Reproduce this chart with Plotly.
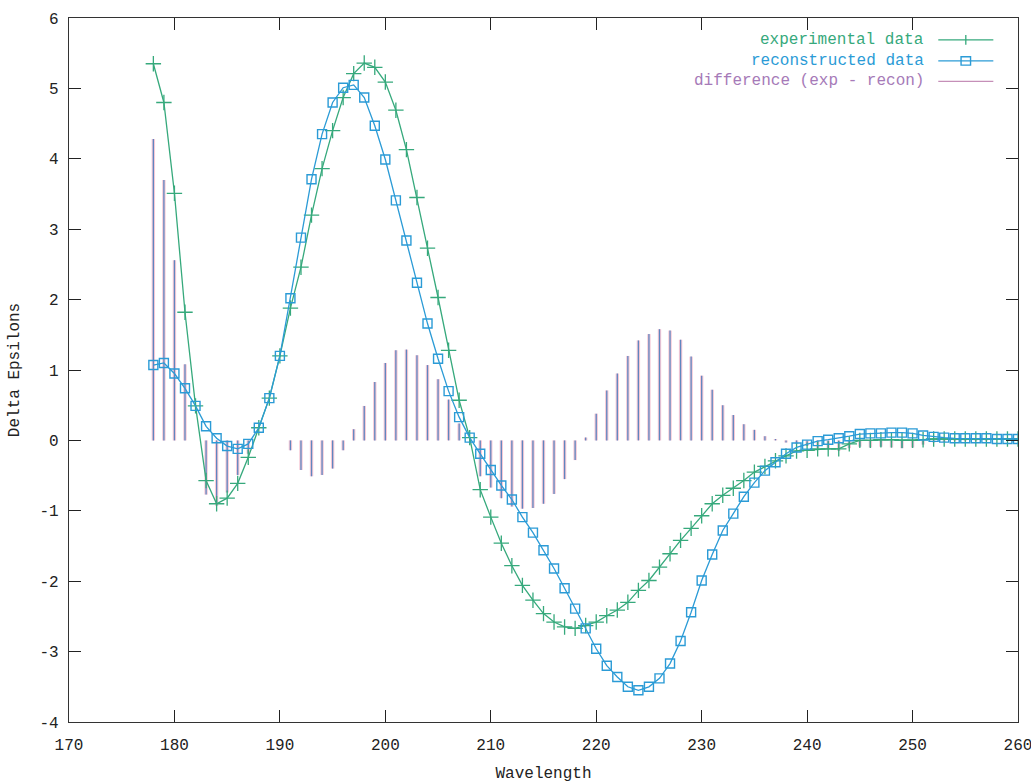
import plotly.graph_objects as go

wavelength = list(range(178, 261))

experimental = [
    5.35, 4.80, 3.51, 1.82, 0.49, -0.57, -0.90, -0.82, -0.61, -0.24,
    0.18, 0.60, 1.20, 1.88, 2.46, 3.20, 3.86, 4.40, 4.87, 5.21,
    5.36, 5.30, 5.09, 4.69, 4.13, 3.45, 2.73, 2.03, 1.28, 0.57,
    0.04, -0.70, -1.09, -1.46, -1.78, -2.06, -2.27, -2.46, -2.58, -2.65,
    -2.67, -2.63, -2.58, -2.49, -2.41, -2.30, -2.13, -1.99, -1.80, -1.61,
    -1.42, -1.25, -1.07, -0.90, -0.78, -0.68, -0.57, -0.45, -0.37, -0.29,
    -0.22, -0.15, -0.14, -0.12, -0.12, -0.12, -0.05, 0.00, 0.00, 0.01,
    0.01, 0.00, 0.00, 0.01, 0.02, 0.02, 0.02, 0.02, 0.02, 0.02,
    0.02, 0.02, 0.02,
]

reconstructed = [
    1.07, 1.10, 0.95, 0.74, 0.49, 0.20, 0.03, -0.08, -0.12, -0.05,
    0.18, 0.60, 1.20, 2.02, 2.88, 3.71, 4.35, 4.80, 5.01, 5.05,
    4.87, 4.47, 3.99, 3.41, 2.84, 2.24, 1.66, 1.16, 0.70, 0.33,
    0.04, -0.19, -0.42, -0.64, -0.84, -1.09, -1.31, -1.56, -1.82, -2.10,
    -2.39, -2.67, -2.96, -3.20, -3.36, -3.50, -3.55, -3.50, -3.38, -3.17,
    -2.85, -2.44, -1.99, -1.62, -1.28, -1.04, -0.80, -0.60, -0.43, -0.31,
    -0.19, -0.10, -0.06, -0.01, 0.01, 0.03, 0.06, 0.09, 0.10, 0.10,
    0.11, 0.11, 0.10, 0.07, 0.05, 0.04, 0.03, 0.03, 0.03, 0.03,
    0.02, 0.02, 0.02,
]

difference = [e - r for e, r in zip(experimental, reconstructed)]

x_ticks = [170, 180, 190, 200, 210, 220, 230, 240, 250, 260]
y_ticks = [-4, -3, -2, -1, 0, 1, 2, 3, 4, 5, 6]

names = ["experimental data", "reconstructed data", "difference (exp - recon)"]
C_EXP = "#36a97c"
C_REC = "#2b9bd6"
C_DIFF_HALO = "#f6c9d6"
C_DIFF = "#5f86c0"
C_DIFF_TXT = "#a67ab8"

FONT = "Liberation Mono"

# impulse (stick) coordinates from the difference data
sx, sy = [], []
for w, d in zip(wavelength, difference):
    sx += [w, w, None]
    sy += [0, d, None]

fig = go.Figure()
fig.add_trace(go.Scatter(x=sx, y=sy, mode="lines",
                         line=dict(color=C_DIFF_HALO, width=3.4),
                         showlegend=False, hoverinfo="skip"))
fig.add_trace(go.Scatter(x=sx, y=sy, mode="lines", name=names[2],
                         line=dict(color=C_DIFF, width=1.3),
                         showlegend=False))
fig.add_trace(go.Scatter(x=wavelength, y=experimental, mode="lines+markers",
                         name=names[0],
                         line=dict(color=C_EXP, width=1.3),
                         marker=dict(symbol="cross-thin-open", size=11,
                                     line=dict(color=C_EXP, width=1.3)),
                         showlegend=False))
fig.add_trace(go.Scatter(x=wavelength, y=reconstructed, mode="lines+markers",
                         name=names[1],
                         line=dict(color=C_REC, width=1.3),
                         marker=dict(symbol="square-open", size=9, color=C_REC,
                                     line=dict(color=C_REC, width=1.4)),
                         showlegend=False))

# gnuplot-style key: text right-aligned, sample to the right
key_rows = [0.969, 0.939, 0.910]
key_colors = [C_EXP, C_REC, C_DIFF_TXT]
for name, yk, col in zip(names, key_rows, key_colors):
    fig.add_annotation(xref="paper", yref="paper", x=0.903, y=yk,
                       text=name, showarrow=False, xanchor="right",
                       yanchor="middle",
                       font=dict(family=FONT, size=16, color=col))
line_cols = [C_EXP, C_REC, "#c58fb8"]
for yk, col in zip(key_rows, line_cols):
    fig.add_shape(type="line", xref="paper", yref="paper",
                  x0=0.916, x1=0.974, y0=yk, y1=yk,
                  line=dict(color=col, width=1.3))
# key sample markers
fig.add_shape(type="line", xref="paper", yref="paper",
              x0=0.945, x1=0.945, y0=key_rows[0] - 0.007, y1=key_rows[0] + 0.007,
              line=dict(color=C_EXP, width=1.3))
fig.add_shape(type="rect", xref="paper", yref="paper",
              x0=0.940, x1=0.950, y0=key_rows[1] - 0.006, y1=key_rows[1] + 0.006,
              line=dict(color=C_REC, width=1.4))

fig.update_xaxes(range=[170, 260], tickvals=x_ticks, ticktext=[str(t) for t in x_ticks],
                 ticks="inside", ticklen=12, tickwidth=1.3, tickcolor="#222",
                 showline=True, linecolor="#333", linewidth=1.3, mirror="allticks",
                 showgrid=False, zeroline=False, automargin=False,
                 ticklabelstandoff=8, ticklabeloverflow="allow",
                 title=dict(text="Wavelength", font=dict(family=FONT, size=16, color="#222"),
                            standoff=13),
                 tickfont=dict(family=FONT, size=16, color="#222"))
fig.update_yaxes(range=[-4, 6], tickvals=y_ticks, ticktext=[str(t) for t in y_ticks],
                 ticks="inside", ticklen=12, tickwidth=1.3, tickcolor="#222",
                 showline=True, linecolor="#333", linewidth=1.3, mirror="allticks",
                 showgrid=False, zeroline=False, automargin=False,
                 ticklabelstandoff=6, ticklabeloverflow="allow",
                 title=dict(text="Delta Epsilons", font=dict(family=FONT, size=16, color="#222"),
                            standoff=15),
                 tickfont=dict(family=FONT, size=16, color="#222"))

fig.update_layout(width=1031, height=783,
                  margin=dict(l=69, r=13, t=18, b=61, autoexpand=False),
                  paper_bgcolor="white", plot_bgcolor="white",
                  showlegend=False)

fig.write_html("out.html", config={"displayModeBar": False},
               post_script="document.body.style.margin='0px';document.body.style.overflow='hidden';")
